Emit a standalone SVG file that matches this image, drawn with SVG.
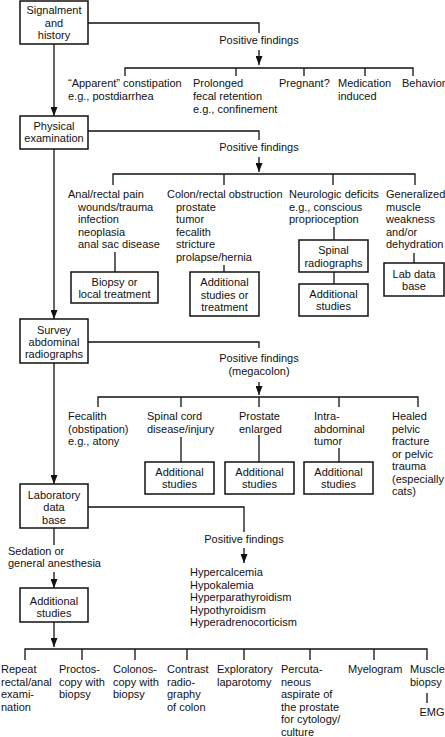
<svg xmlns="http://www.w3.org/2000/svg" width="445" height="737" viewBox="0 0 445 737">
<style>
text{font-family:"Liberation Sans",Arial,sans-serif;font-size:11px;fill:#111}
.c{text-anchor:middle}
.box{fill:#fff;stroke:#111;stroke-width:1.5}
.ln{fill:none;stroke:#111;stroke-width:1.3}
.ar{fill:none;stroke:#111;stroke-width:1.3;marker-end:url(#arr)}
</style>
<defs>
<marker id="arr" markerUnits="userSpaceOnUse" markerWidth="9" markerHeight="7" viewBox="0 0 9 7" refX="9" refY="3.5" orient="auto">
<path d="M0,0 L9,3.5 L0,7 z" fill="#111"/>
</marker>
</defs>
<rect width="445" height="737" fill="#fff"/>

<g id="connectors">
<path class="ar" d="M54,44 V116"/>
<path class="ln" d="M88,23 H259 V33"/>
<path class="ar" d="M259,50 V65"/>
<path class="ln" d="M125,76 V68 H413 V76 M236,68 V76 M304,68 V76 M365,68 V76"/>

<path class="ar" d="M54,149 V319"/>
<path class="ln" d="M88,131 H259 V140"/>
<path class="ar" d="M259,157 V172"/>
<path class="ln" d="M113,185 V174 H415 V185 M224,174 V185 M333,174 V185"/>
<path class="ln" d="M115,252 V272 M224,265 V272 M334,227 V240 M334,272 V284 M414,253 V263"/>

<path class="ar" d="M54,363 V484"/>
<path class="ln" d="M88,342 H259 V348"/>
<path class="ar" d="M259,382 V395"/>
<path class="ln" d="M98,407 V397 H418 V407 M181,397 V407 M259,397 V407 M339,397 V407"/>
<path class="ln" d="M181,437 V462 M259,435 V462 M339,448 V462"/>

<path class="ln" d="M88,507 H244 V532"/>
<path class="ar" d="M244,548 V563"/>
<path class="ln" d="M54,528 V545"/>
<path class="ar" d="M54,572 V588"/>

<path class="ar" d="M54,622 V647"/>
<path class="ln" d="M25,660 V649 H427 V660 M82,649 V660 M135,649 V660 M187,649 V660 M244,649 V660 M310,649 V660 M374,649 V660"/>
<path class="ln" d="M427,693 V703"/>
</g>

<g id="signalment">
<rect class="box" x="20" y="1" width="68" height="43"/>
<text class="c" x="54" y="14">Signalment</text>
<text class="c" x="54" y="27">and</text>
<text class="c" x="54" y="39">history</text>
</g>
<g id="pf1"><text class="c" x="259" y="44">Positive findings</text></g>
<g id="apparent"><text x="68" y="87">“Apparent” constipation</text><text x="68" y="100">e.g., postdiarrhea</text></g>
<g id="prolonged"><text x="193" y="87">Prolonged</text><text x="193" y="100">fecal retention</text><text x="193" y="113">e.g., confinement</text></g>
<g id="pregnant"><text x="279" y="87">Pregnant?</text></g>
<g id="medication"><text x="338" y="87">Medication</text><text x="338" y="100">induced</text></g>
<g id="behavior"><text x="402" y="87">Behavior</text></g>

<g id="physical">
<rect class="box" x="20" y="116" width="68" height="33"/>
<text class="c" x="54" y="130">Physical</text>
<text class="c" x="54" y="142">examination</text>
</g>
<g id="pf2"><text class="c" x="259" y="151">Positive findings</text></g>
<g id="anal">
<text x="68" y="198">Anal/rectal pain</text>
<text x="78" y="210.5">wounds/trauma</text>
<text x="78" y="223">infection</text>
<text x="78" y="235.5">neoplasia</text>
<text x="78" y="248">anal sac disease</text>
</g>
<g id="colon">
<text x="167" y="198">Colon/rectal obstruction</text>
<text x="176" y="210.5">prostate</text>
<text x="176" y="223">tumor</text>
<text x="176" y="235.5">fecalith</text>
<text x="176" y="248">stricture</text>
<text x="176" y="260.5">prolapse/hernia</text>
</g>
<g id="neuro">
<text x="289" y="198">Neurologic deficits</text>
<text x="289" y="210.5">e.g., conscious</text>
<text x="289" y="223">proprioception</text>
</g>
<g id="generalized">
<text x="386" y="198">Generalized</text>
<text x="386" y="210.5">muscle</text>
<text x="386" y="223">weakness</text>
<text x="386" y="235.5">and/or</text>
<text x="386" y="248">dehydration</text>
</g>
<g id="biopsy">
<rect class="box" x="71" y="272" width="87" height="31"/>
<text class="c" x="114.5" y="286">Biopsy or</text>
<text class="c" x="114.5" y="298">local treatment</text>
</g>
<g id="addl-treat">
<rect class="box" x="190" y="272" width="69" height="44"/>
<text class="c" x="224.5" y="286">Additional</text>
<text class="c" x="224.5" y="298.5">studies or</text>
<text class="c" x="224.5" y="311">treatment</text>
</g>
<g id="spinal">
<rect class="box" x="299" y="240" width="69" height="32"/>
<text class="c" x="333.5" y="254">Spinal</text>
<text class="c" x="333.5" y="267">radiographs</text>
</g>
<g id="addl-spinal">
<rect class="box" x="299" y="284" width="69" height="32"/>
<text class="c" x="333.5" y="298">Additional</text>
<text class="c" x="333.5" y="310">studies</text>
</g>
<g id="labdb1">
<rect class="box" x="384" y="263" width="60" height="33"/>
<text class="c" x="414" y="278">Lab data</text>
<text class="c" x="414" y="290">base</text>
</g>

<g id="survey">
<rect class="box" x="20" y="319" width="68" height="44"/>
<text class="c" x="54" y="334">Survey</text>
<text class="c" x="54" y="346">abdominal</text>
<text class="c" x="54" y="358">radiographs</text>
</g>
<g id="pf3"><text class="c" x="259" y="362">Positive findings</text><text class="c" x="259" y="375">(megacolon)</text></g>
<g id="fecalith"><text x="68" y="420">Fecalith</text><text x="68" y="432.5">(obstipation)</text><text x="68" y="445">e.g., atony</text></g>
<g id="spinalcord"><text x="147" y="420">Spinal cord</text><text x="147" y="432.5">disease/injury</text></g>
<g id="prostate"><text x="239" y="420">Prostate</text><text x="239" y="432.5">enlarged</text></g>
<g id="intra"><text x="314" y="420">Intra-</text><text x="314" y="432.5">abdominal</text><text x="314" y="445">tumor</text></g>
<g id="healed">
<text x="392" y="420">Healed</text>
<text x="392" y="432.5">pelvic</text>
<text x="392" y="445">fracture</text>
<text x="392" y="457.5">or pelvic</text>
<text x="392" y="470">trauma</text>
<text x="392" y="482.5">(especially</text>
<text x="392" y="495">cats)</text>
</g>
<g id="addl-a">
<rect class="box" x="145" y="462" width="69" height="32"/>
<text class="c" x="179.5" y="476">Additional</text>
<text class="c" x="179.5" y="488">studies</text>
</g>
<g id="addl-b">
<rect class="box" x="225" y="462" width="69" height="32"/>
<text class="c" x="259.5" y="476">Additional</text>
<text class="c" x="259.5" y="488">studies</text>
</g>
<g id="addl-c">
<rect class="box" x="304" y="462" width="69" height="32"/>
<text class="c" x="338.5" y="476">Additional</text>
<text class="c" x="338.5" y="488">studies</text>
</g>

<g id="laboratory">
<rect class="box" x="20" y="484" width="68" height="44"/>
<text class="c" x="54" y="499">Laboratory</text>
<text class="c" x="54" y="511">data</text>
<text class="c" x="54" y="524">base</text>
</g>
<g id="pf4"><text class="c" x="244" y="543">Positive findings</text></g>
<g id="labfindings">
<text x="190" y="576">Hypercalcemia</text>
<text x="190" y="588.5">Hypokalemia</text>
<text x="190" y="601">Hyperparathyroidism</text>
<text x="190" y="613.5">Hypothyroidism</text>
<text x="190" y="626">Hyperadrenocorticism</text>
</g>
<g id="sedation"><text x="8" y="555">Sedation or</text><text x="8" y="567">general anesthesia</text></g>
<g id="additional">
<rect class="box" x="20" y="588" width="68" height="34"/>
<text class="c" x="54" y="604.5">Additional</text>
<text class="c" x="54" y="617">studies</text>
</g>

<g id="repeat"><text x="1" y="673">Repeat</text><text x="1" y="685.5">rectal/anal</text><text x="1" y="698">exami-</text><text x="1" y="710.5">nation</text></g>
<g id="procto"><text x="59" y="673">Proctos-</text><text x="59" y="685.5">copy with</text><text x="59" y="698">biopsy</text></g>
<g id="colono"><text x="113" y="673">Colonos-</text><text x="113" y="685.5">copy with</text><text x="113" y="698">biopsy</text></g>
<g id="contrast"><text x="167" y="673">Contrast</text><text x="167" y="685.5">radio-</text><text x="167" y="698">graphy</text><text x="167" y="710.5">of colon</text></g>
<g id="explor"><text x="217" y="673">Exploratory</text><text x="217" y="685.5">laparotomy</text></g>
<g id="percut"><text x="281" y="673">Percuta-</text><text x="281" y="685.5">neous</text><text x="281" y="698">aspirate of</text><text x="281" y="710.5">the prostate</text><text x="281" y="723">for cytology/</text><text x="281" y="735.5">culture</text></g>
<g id="myelogram"><text x="348" y="673">Myelogram</text></g>
<g id="muscle"><text x="410" y="673">Muscle</text><text x="410" y="685.5">biopsy</text></g>
<g id="emg"><text class="c" x="432" y="716">EMG</text></g>
</svg>
